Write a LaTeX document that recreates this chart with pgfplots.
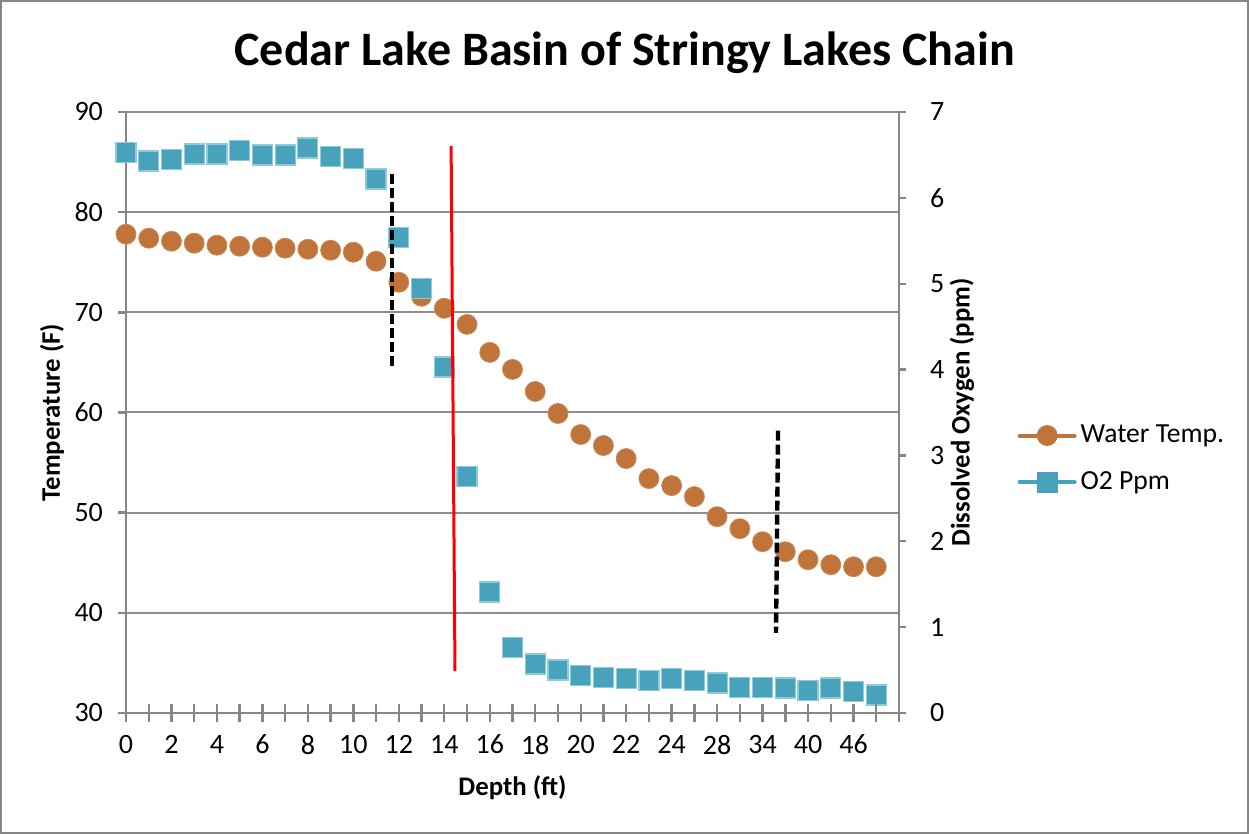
\documentclass[border=0pt]{standalone}
\usepackage{pgfplots}
\pgfplotsset{compat=1.18}
\usepackage{fontspec}
\setmainfont{Carlito}
\definecolor{tempc}{HTML}{C0743A}
\definecolor{oxc}{HTML}{48A2BB}
\definecolor{oxedge}{HTML}{8CCBDC}
\definecolor{axgray}{HTML}{868686}
\definecolor{gridgray}{HTML}{8E8E8E}

\pgfplotstableread{
idx temp
0 77.8
1 77.4
2 77.1
3 76.9
4 76.7
5 76.6
6 76.5
7 76.4
8 76.3
9 76.2
10 76.0
11 75.1
12 73.0
13 71.6
14 70.4
15 68.8
16 66.0
17 64.3
18 62.1
19 59.9
20 57.8
21 56.7
22 55.4
23 53.4
24 52.7
25 51.6
26 49.6
27 48.4
28 47.1
29 46.1
30 45.3
31 44.8
32 44.6
33 44.6
}\temptable

\pgfplotstableread{
idx ox
0 6.53
1 6.43
2 6.45
3 6.51
4 6.51
5 6.55
6 6.50
7 6.50
8 6.58
9 6.48
10 6.46
11 6.22
12 5.54
13 4.94
14 4.03
15 2.75
16 1.41
17 0.76
18 0.57
19 0.50
20 0.44
21 0.41
22 0.40
23 0.38
24 0.40
25 0.38
26 0.35
27 0.30
28 0.30
29 0.29
30 0.26
31 0.29
32 0.25
33 0.21
}\oxtable

\begin{document}
\begin{tikzpicture}
\pgfplotsset{
  base/.style={width=386.5pt, height=300.5pt, scale only axis,
    xmin=0, xmax=34, clip=false,
    /pgf/number format/assume math mode=true,
    tick label style={font=\fontsize{14}{16}\selectfont, text=black},
    label style={font=\fontsize{13.4}{15}\selectfont\bfseries},
    axis line style={axgray, line width=1.2pt},
    tick style={axgray, line width=1.2pt}},
}
% Axis 1: temperature, left axis, grid
\begin{axis}[base,
  ymin=30, ymax=90, ytick={30,40,...,90},
  axis y line*=left, axis x line*=bottom,
  xtick=\empty,
  tick align=outside, major tick length=4pt,
  ymajorgrids, major grid style={gridgray, line width=1pt},
  yticklabel style={xshift=-4pt},
  ylabel={Temperature (F)},
  ylabel style={at={(axis description cs:-0.0957,0.5)}, anchor=center},
  title={Cedar Lake Basin of Stringy Lakes Chain},
  title style={at={(axis description cs:0.645,1)}, anchor=center, yshift=23.5pt,
    font=\fontsize{24}{28}\selectfont\bfseries},
]
\addplot[only marks, mark=*, mark size=5pt, color=tempc,
  mark options={draw=tempc!85!white, line width=0.4pt}] table[x=idx, y=temp] {\temptable};
\end{axis}
% Axis 2: dissolved oxygen, right axis
\begin{axis}[base,
  ymin=0, ymax=7, ytick={0,1,...,7},
  axis y line*=right, axis x line=none,
  tick align=outside, major tick length=3.5pt,
  yticklabel style={xshift=8.5pt},
  ylabel={Dissolved Oxygen (ppm)},
  ylabel style={at={(axis description cs:1.0815,0.5)}, anchor=center, rotate=0},
]
\addplot[only marks, mark=square*, mark size=5pt, color=oxc,
  mark options={draw=oxedge, fill=oxc, line width=0.6pt}] table[x=idx, y=ox] {\oxtable};
\end{axis}
% Axis 3: x axis, annotations, legend
\begin{axis}[base,
  ymin=30, ymax=90,
  axis x line*=bottom, axis y line=none,
  tick align=center, major tick length=9pt,
  xtick={0,1,...,34},
  xticklabels={0,,2,,4,,6,,8,,10,,12,,14,,16,,18,,20,,22,,24,,28,,34,,40,,46,,},
  xticklabel style={anchor=north, yshift=-3pt},
  xlabel={Depth (ft)},
  xlabel style={at={(axis description cs:0.5,-0.1248)}, anchor=center},
  legend style={at={(axis description cs:1.153,0.4226)}, anchor=west,
    draw=none, fill=none, inner sep=0pt, row sep=9pt,
    font=\fontsize{13.8}{16}\selectfont},
  legend cell align=left,
  legend image code/.code={\draw[mark repeat=2,mark phase=2,#1]
    plot coordinates {(0pt,0pt) (13.75pt,0pt) (27.5pt,0pt)};},
]
\addplot[red, line width=1.5pt, forget plot] coordinates {(14.30,86.6) (14.47,34.2)};
\addplot[black, line width=2.2pt, dash pattern=on 5pt off 2pt, forget plot]
  coordinates {(11.70,83.8) (11.70,64.4)};
\addplot[black, line width=2.2pt, dash pattern=on 5pt off 2pt, forget plot]
  coordinates {(28.68,58.2) (28.59,38.0)};
\addlegendimage{tempc, line width=2pt, line cap=round, mark=*, mark size=5pt,
  mark options={solid, line width=0.4pt}}
\addlegendentry{Water Temp.}
\addlegendimage{oxc, line width=2pt, line cap=round, mark=square*, mark size=5pt,
  mark options={solid, line width=0.4pt}}
\addlegendentry{O2 Ppm}
\end{axis}
\pgfresetboundingbox
\useasboundingbox (-63pt,-60.5pt) rectangle (561.5pt,356.5pt);
\draw[axgray, line width=1pt] (-62.5pt,-60pt) rectangle (561pt,356pt);
\end{tikzpicture}
\end{document}
